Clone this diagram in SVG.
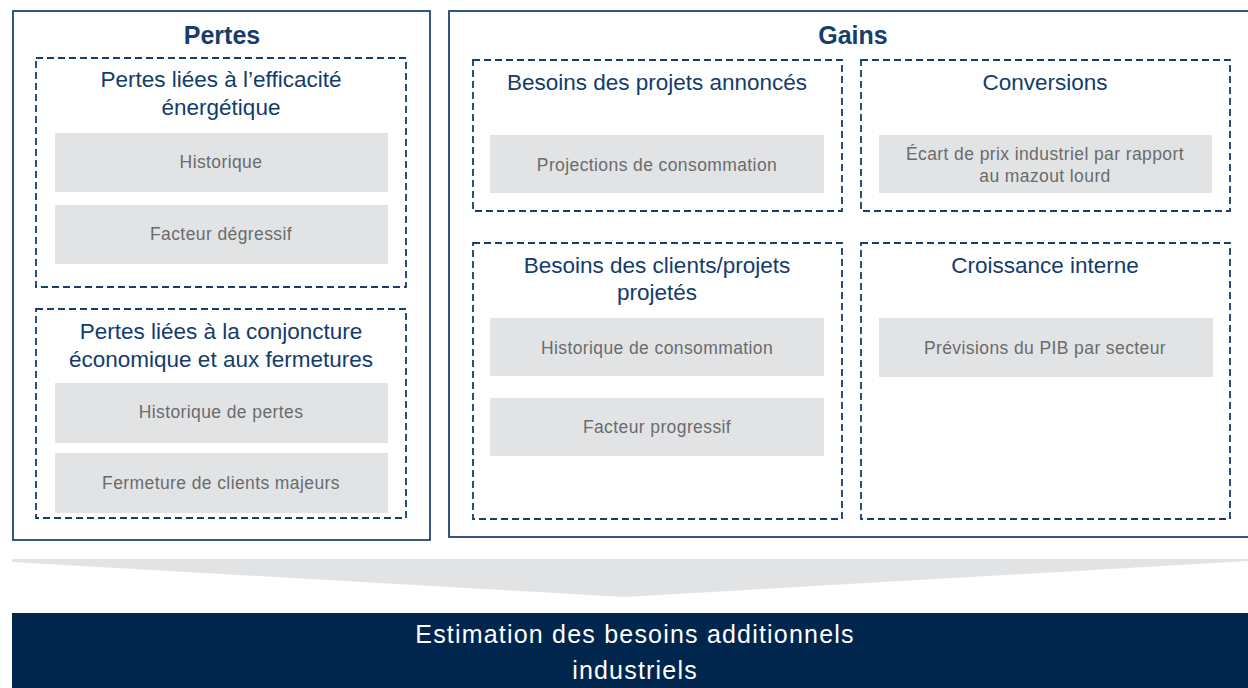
<svg xmlns="http://www.w3.org/2000/svg" width="1248" height="688" viewBox="0 0 1248 688">
  <style>
    .panel { fill: #ffffff; stroke: #1b4576; stroke-width: 1.8; }
    .group { fill: none; stroke: #173e6c; stroke-width: 1.8; stroke-dasharray: 7 4; }
    .item { fill: #e2e3e5; }
    .head { font-family: "Liberation Sans", Arial, sans-serif; font-size: 25px; font-weight: bold; fill: #163d6b; text-anchor: middle; }
    .title { font-family: "Liberation Sans", Arial, sans-serif; font-size: 22.5px; fill: #123c6b; text-anchor: middle; }
    .label { font-family: "Liberation Sans", Arial, sans-serif; font-size: 17.5px; letter-spacing: 0.4px; fill: #6a6b6d; text-anchor: middle; }
    .result { font-family: "Liberation Sans", Arial, sans-serif; font-size: 25px; letter-spacing: 1.2px; fill: #ffffff; text-anchor: middle; }
  </style>

  <rect width="1248" height="688" fill="#ffffff"/>

  <!-- Losses panel -->
  <g id="pertes">
    <rect class="panel" x="13" y="11" width="417" height="529"/>
    <text class="head" x="222" y="44">Pertes</text>
  </g>

  <g id="pertes-efficacite">
    <rect class="group" x="36" y="58" width="370" height="229"/>
    <text class="title" x="221" y="87">Pertes liées à l’efficacité</text>
    <text class="title" x="221" y="115">énergétique</text>
    <rect class="item" x="55" y="133" width="333" height="59"/>
    <text class="label" x="221" y="168">Historique</text>
    <rect class="item" x="55" y="205" width="333" height="59"/>
    <text class="label" x="221" y="240">Facteur dégressif</text>
  </g>

  <g id="pertes-conjoncture">
    <rect class="group" x="36" y="309" width="370" height="209"/>
    <text class="title" x="221" y="339">Pertes liées à la conjoncture</text>
    <text class="title" x="221" y="367">économique et aux fermetures</text>
    <rect class="item" x="55" y="383" width="333" height="60"/>
    <text class="label" x="221" y="418">Historique de pertes</text>
    <rect class="item" x="55" y="453" width="333" height="60"/>
    <text class="label" x="221" y="489">Fermeture de clients majeurs</text>
  </g>

  <!-- Gains panel -->
  <g id="gains">
    <rect class="panel" x="449" y="11" width="812" height="526"/>
    <text class="head" x="853" y="44">Gains</text>
  </g>

  <g id="projets-annonces">
    <rect class="group" x="473" y="60" width="369" height="151"/>
    <text class="title" x="657" y="90">Besoins des projets annoncés</text>
    <rect class="item" x="490" y="135" width="334" height="58"/>
    <text class="label" x="657" y="171">Projections de consommation</text>
  </g>

  <g id="conversions">
    <rect class="group" x="861" y="60" width="369" height="151"/>
    <text class="title" x="1045" y="90">Conversions</text>
    <rect class="item" x="879" y="135" width="333" height="58"/>
    <text class="label" x="1045" y="160">Écart de prix industriel par rapport</text>
    <text class="label" x="1045" y="182">au mazout lourd</text>
  </g>

  <g id="clients-projetes">
    <rect class="group" x="473" y="243" width="369" height="276"/>
    <text class="title" x="657" y="273">Besoins des clients/projets</text>
    <text class="title" x="657" y="300">projetés</text>
    <rect class="item" x="490" y="318" width="334" height="58"/>
    <text class="label" x="657" y="354">Historique de consommation</text>
    <rect class="item" x="490" y="398" width="334" height="58"/>
    <text class="label" x="657" y="433">Facteur progressif</text>
  </g>

  <g id="croissance-interne">
    <rect class="group" x="861" y="243" width="369" height="276"/>
    <text class="title" x="1045" y="273">Croissance interne</text>
    <rect class="item" x="879" y="318" width="334" height="59"/>
    <text class="label" x="1045" y="354">Prévisions du PIB par secteur</text>
  </g>

  <!-- Funnel leading into the result bar -->
  <g id="connectors">
    <polygon points="12,559 1248,559 1248,561 624,597 12,562" fill="#e2e3e5"/>
  </g>

  <g id="estimation">
    <rect x="12" y="613" width="1236" height="75" fill="#00264e"/>
    <text class="result" x="635" y="643">Estimation des besoins additionnels</text>
    <text class="result" x="635" y="679">industriels</text>
  </g>
</svg>
